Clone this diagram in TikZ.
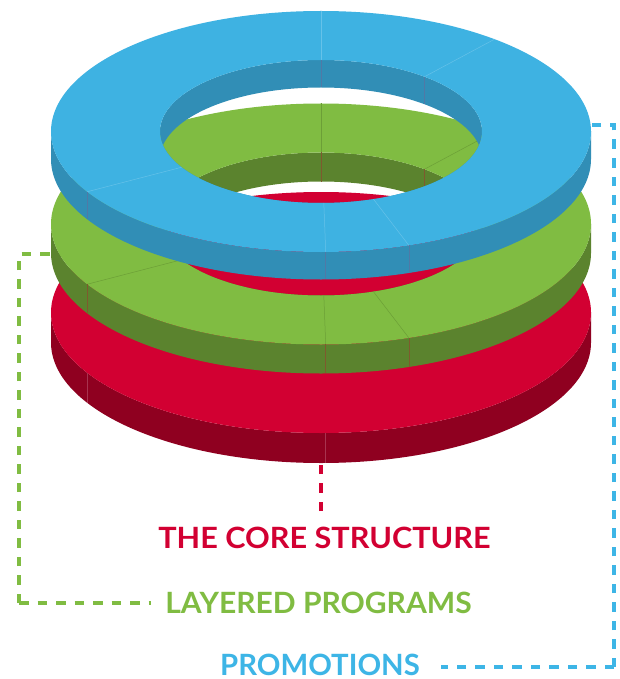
\documentclass[tikz,border=0pt]{standalone}
\usepackage{fontspec}
\newfontfamily\lblfont{Lato}
\definecolor{bluetop}{HTML}{3EB2E2}
\definecolor{bluewall}{HTML}{318EB6}
\definecolor{blueseam}{HTML}{66C2E9}
\definecolor{bluewseam}{HTML}{5079A6}
\definecolor{greentop}{HTML}{80BC42}
\definecolor{greenwall}{HTML}{5B832E}
\definecolor{greenseam}{HTML}{6C9F37}
\definecolor{greenwseam}{HTML}{7E5A2E}
\definecolor{redtop}{HTML}{D20032}
\definecolor{redwall}{HTML}{8F0020}
\definecolor{redwseam}{HTML}{A8334F}
\definecolor{bluedash}{HTML}{3DB5E6}
\definecolor{greendash}{HTML}{80BC42}
\definecolor{reddash}{HTML}{D20032}
\tikzset{
  dashline/.style={line width=3.4pt, dash pattern=on 9.5pt off 9pt},
  seamline/.style={line width=0.5pt},
  lbl/.style={font=\lblfont\bfseries\fontsize{29.3}{30}\selectfont, inner sep=0pt, anchor=base}
}
\newcommand{\widetext}[2]{\scalebox{#1}[1]{#2}}
% #1 centre y, #2 thickness, #3 top colour, #4 wall colour, #5 top seam, #6 wall seam
\newcommand{\myring}[6]{%
  \begin{scope}[shift={(321,#1)}]
    \fill[#4] (-270,0) arc[start angle=180,end angle=360,x radius=270,y radius=120.5]
      -- (270,-#2) arc[start angle=360,end angle=180,x radius=270,y radius=120.5] -- cycle;
    \fill[#4,even odd rule] (0,0) ellipse[x radius=161,y radius=71.5]
      (0,-#2) ellipse[x radius=161,y radius=71.5];
    \fill[#3,even odd rule] (0,0) ellipse[x radius=270,y radius=120.5]
      (0,0) ellipse[x radius=161,y radius=71.5];
    \foreach \a in {50,90,210,271,289}{
      \draw[seamline,#5] (\a:161 and 71.5) -- (\a:270 and 120.5);
    }
    \foreach \a in {210,271,289}{
      \draw[seamline,#6] (\a:270 and 120.5) -- ++(0,-#2);
    }
    \foreach \a in {50,90}{
      \draw[seamline,#6] (\a:161 and 71.5) -- ++(0,-#2);
    }
  \end{scope}}
\begin{document}
\begin{tikzpicture}[x=1pt,y=1pt]
\useasboundingbox (0,0) rectangle (620,-679);
\fill[white] (0,0) rectangle (620,-679);
% labels
\node[lbl, text=redtop] (core) at (324.5,-548) {\widetext{1.045}{THE CORE STRUCTURE}};
\node[lbl, text=greentop] (layered) at (318.5,-613) {\widetext{1.025}{LAYERED PROGRAMS}};
\node[lbl, text=bluedash] (promo) at (320,-675.5) {\widetext{1.0}{PROMOTIONS}};
% connector coordinates
\coordinate (redA) at (321,-511);
\coordinate (redB) at (321,-450);
\coordinate (greenEnd) at (151,-603);
\coordinate (greenCorner) at (19,-603);
\coordinate (greenTop) at (19,-254);
\coordinate (greenRing) at (62,-254);
\coordinate (blueEnd) at (441,-667);
\coordinate (blueCorner) at (614,-667);
\coordinate (blueTop) at (614,-125);
\coordinate (blueRing) at (585,-125);
% dashed connectors (behind the rings)
\draw[dashline, reddash] (redA) -- (redB);
\draw[dashline, greendash] (greenCorner) -- (greenEnd);
\draw[dashline, greendash] (greenCorner) -- (greenTop) -- (greenRing);
\draw[dashline, bluedash] (blueCorner) -- (blueEnd);
\draw[dashline, bluedash] (blueCorner) -- (blueTop) -- (blueRing);
% red core disc
\begin{scope}[shift={(321,-312.5)}]
  \fill[redwall] (-270,0) arc[start angle=180,end angle=360,x radius=270,y radius=120.5]
    -- (270,-30) arc[start angle=360,end angle=180,x radius=270,y radius=120.5] -- cycle;
  \fill[redtop] (0,0) ellipse[x radius=270,y radius=120.5];
  \foreach \a in {210,271}{
    \draw[seamline,redwseam] (\a:270 and 120.5) -- ++(0,-30);
  }
\end{scope}
% green ring
\myring{-224}{29}{greentop}{greenwall}{greenseam}{greenwseam}
% blue ring
\myring{-131.5}{27.5}{bluetop}{bluewall}{blueseam}{bluewseam}
\end{tikzpicture}
\end{document}
